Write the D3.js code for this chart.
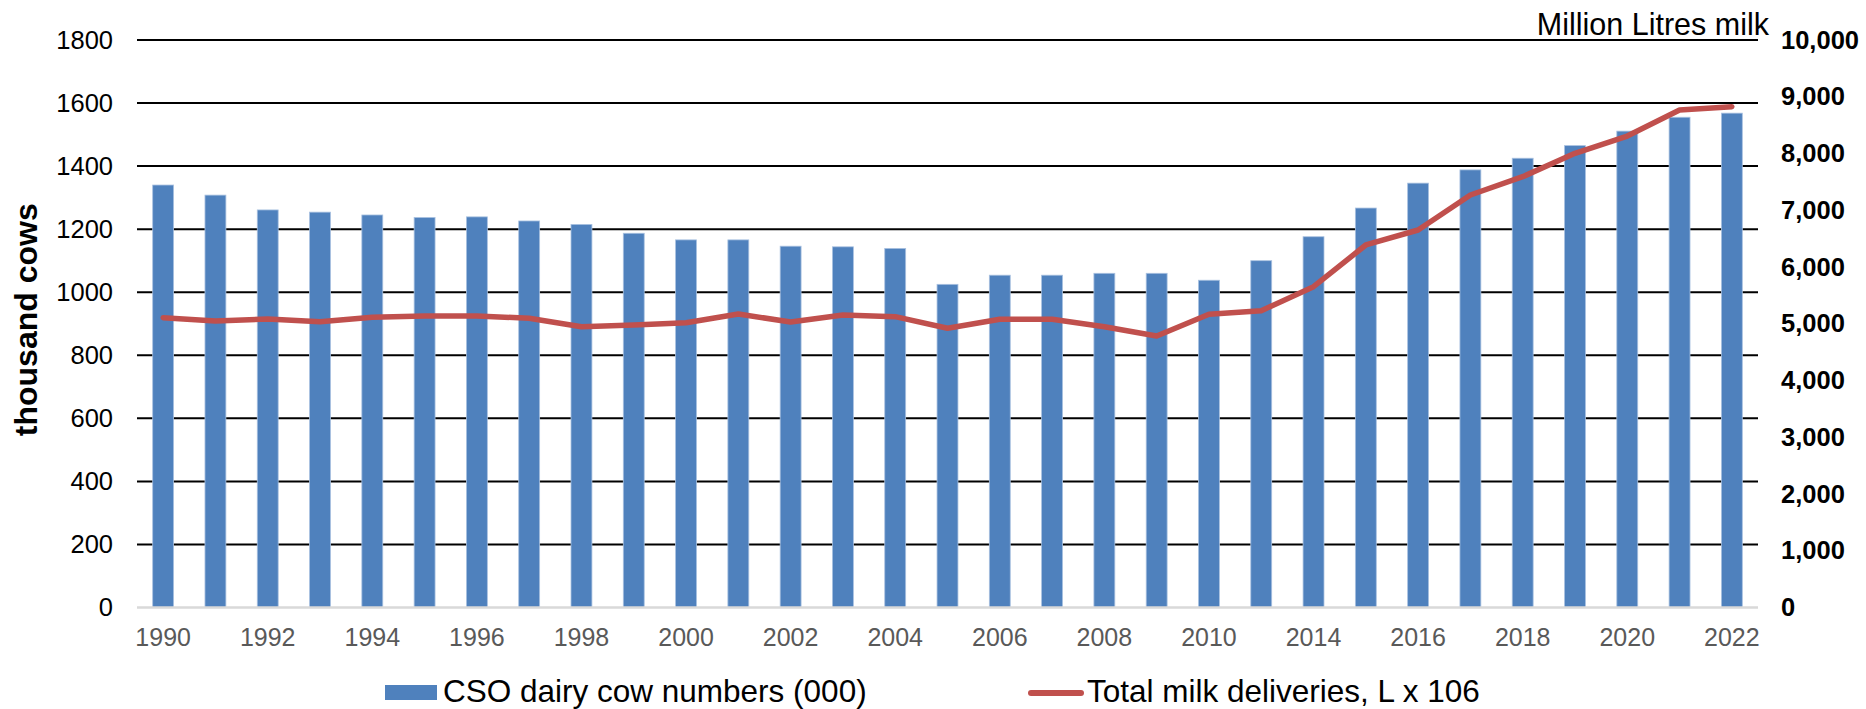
<!DOCTYPE html>
<html>
<head>
<meta charset="utf-8">
<script src="https://cdn.jsdelivr.net/npm/d3@7"></script>
<style>
  html, body { margin: 0; padding: 0; background: #fff; }
  svg { display: block; font-family: Arial, "Liberation Sans", sans-serif; }
</style>
</head>
<body>
<svg id="chart" width="1866" height="709"></svg>
<script>
// Years on the category axis (2011 and 2013 absent from the series)
const years = ["1990","1991","1992","1993","1994","1995","1996","1997","1998","1999",
               "2000","2001","2002","2003","2004","2005","2006","2007","2008","2009",
               "2010","2012","2014","2015","2016","2017","2018","2019","2020","2021","2022"];

// CSO dairy cow numbers, thousands
const cowNumbers = [1340,1308,1261,1254,1245,1237,1239,1226,1215,1187,
                    1166,1166,1146,1144,1139,1025,1054,1054,1060,1060,
                    1038,1100,1176,1267,1346,1388,1425,1465,1511,1555,1568];

// Total milk deliveries, million litres
const milkDeliveries = [5107,5048,5084,5036,5114,5137,5137,5096,4948,4978,
                        5018,5172,5031,5154,5125,4920,5078,5078,4948,4784,
                        5166,5230,5653,6388,6652,7269,7591,8003,8308,8767,8825];

// Axis tick values
const leftTicks = [0,200,400,600,800,1000,1200,1400,1600,1800];
const rightTicks = [0,1000,2000,3000,4000,5000,6000,7000,8000,9000,10000];

const seriesNames = ["CSO dairy cow numbers (000)", "Total milk deliveries, L x 106"];
const leftTitle = "thousand cows";
const rightTitle = "Million Litres milk";

const barColor = "#4f81bd";
const lineColor = "#c0504d";

const svg = d3.select("#chart");
const plot = { left: 137, right: 1758, top: 40, bottom: 607.5 };

const x = d3.scaleBand()
  .domain(years)
  .range([plot.left, plot.right])
  .paddingInner(0.6)
  .paddingOuter(0.3);

const yLeft = d3.scaleLinear().domain([0, 1800]).range([plot.bottom, plot.top]);
const yRight = d3.scaleLinear().domain([0, 10000]).range([plot.bottom, plot.top]);

// Horizontal gridlines at the left-axis ticks
svg.append("g")
  .selectAll("line")
  .data(leftTicks.filter(d => d > 0))
  .join("line")
  .attr("x1", plot.left).attr("x2", plot.right)
  .attr("y1", d => yLeft(d)).attr("y2", d => yLeft(d))
  .attr("stroke", "#000").attr("stroke-width", 2);

// Left axis labels
const leftAxis = d3.axisLeft(yLeft).tickValues(leftTicks).tickSize(0).tickPadding(24)
  .tickFormat(d3.format("d"));
svg.append("g")
  .attr("transform", `translate(${plot.left},0)`)
  .call(leftAxis)
  .call(g => g.select(".domain").remove())
  .selectAll("text")
  .attr("font-size", 25.5).attr("fill", "#000")
  .attr("font-family", "Arial, 'Liberation Sans', sans-serif");

// Right axis labels
const rightAxis = d3.axisRight(yRight).tickValues(rightTicks).tickSize(0).tickPadding(23)
  .tickFormat(d3.format(","));
svg.append("g")
  .attr("transform", `translate(${plot.right},0)`)
  .call(rightAxis)
  .call(g => g.select(".domain").remove())
  .selectAll("text")
  .attr("font-size", 25.5).attr("font-weight", "bold").attr("fill", "#000")
  .attr("font-family", "Arial, 'Liberation Sans', sans-serif");

// Bars
svg.append("g")
  .selectAll("rect")
  .data(years.map((y, i) => ({ year: y, value: cowNumbers[i] })))
  .join("rect")
  .attr("x", d => x(d.year))
  .attr("width", x.bandwidth())
  .attr("y", d => yLeft(d.value))
  .attr("height", d => yLeft(0) - yLeft(d.value))
  .attr("fill", barColor)
  .attr("stroke", "#a9c1e0").attr("stroke-width", 0.8);

// Baseline
svg.append("line")
  .attr("x1", plot.left).attr("x2", plot.right)
  .attr("y1", yLeft(0)).attr("y2", yLeft(0))
  .attr("stroke", "#d9d9d9").attr("stroke-width", 2.5);

// Category axis: every second year labelled
const bottomAxis = d3.axisBottom(x)
  .tickValues(years.filter((d, i) => i % 2 === 0))
  .tickSize(0).tickPadding(21);
svg.append("g")
  .attr("transform", `translate(0,${plot.bottom})`)
  .call(bottomAxis)
  .call(g => g.select(".domain").remove())
  .selectAll("text")
  .attr("font-size", 25).attr("fill", "#595959")
  .attr("font-family", "Arial, 'Liberation Sans', sans-serif");

// Milk deliveries line
const line = d3.line()
  .x((d, i) => x(years[i]) + x.bandwidth() / 2)
  .y(d => yRight(d));
svg.append("path")
  .datum(milkDeliveries)
  .attr("d", line)
  .attr("fill", "none")
  .attr("stroke", lineColor)
  .attr("stroke-width", 5.5)
  .attr("stroke-linejoin", "round")
  .attr("stroke-linecap", "round");

// Axis titles
svg.append("text")
  .attr("transform", `translate(37,${(plot.top + plot.bottom) / 2 - 4}) rotate(-90)`)
  .attr("text-anchor", "middle")
  .attr("font-size", 32).attr("font-weight", "bold")
  .text(leftTitle);

svg.append("text")
  .attr("x", 1769).attr("y", 35)
  .attr("text-anchor", "end")
  .attr("font-size", 30.5)
  .text(rightTitle);

// Legend
const legend = svg.append("g");
legend.append("rect")
  .attr("x", 385).attr("y", 685).attr("width", 52).attr("height", 15)
  .attr("fill", barColor);
legend.append("text")
  .attr("x", 443).attr("y", 702)
  .attr("font-size", 31.5)
  .text(seriesNames[0]);
legend.append("line")
  .attr("x1", 1031).attr("x2", 1081).attr("y1", 693).attr("y2", 693)
  .attr("stroke", lineColor).attr("stroke-width", 6).attr("stroke-linecap", "round");
legend.append("text")
  .attr("x", 1087).attr("y", 702)
  .attr("font-size", 31.5)
  .text(seriesNames[1]);
</script>
</body>
</html>
